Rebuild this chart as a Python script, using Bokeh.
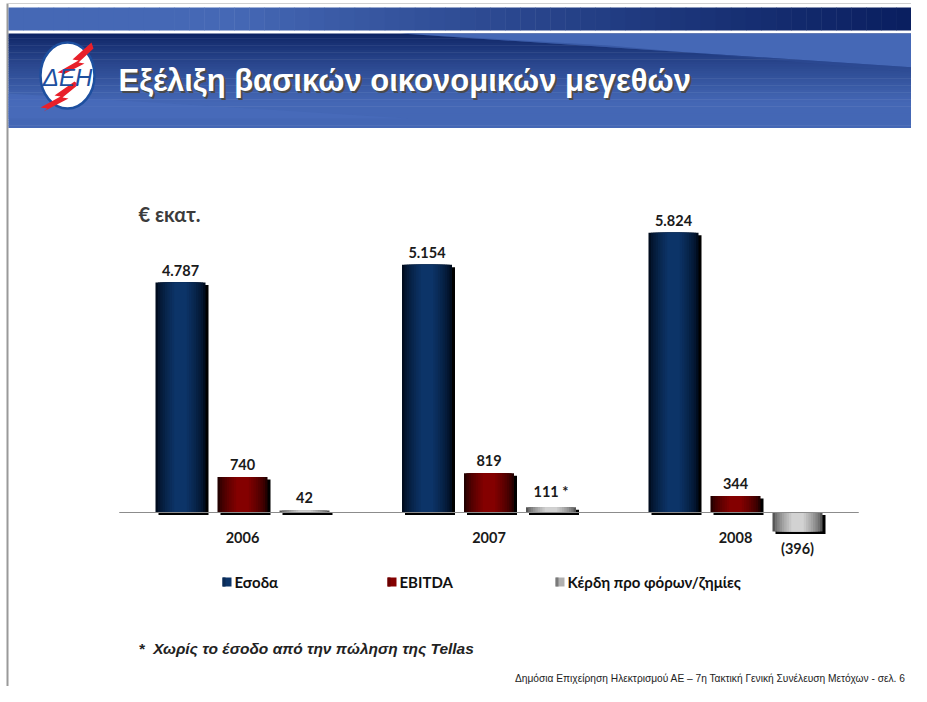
from bokeh.plotting import figure
from bokeh.models import Range1d
from bokeh.core.properties import value
from bokeh.embed import file_html
from bokeh.resources import INLINE

# ---------------- data ----------------
years = ["2006", "2007", "2008"]
series_names = ["Εσοδα", "EBITDA", "Κέρδη προ φόρων/ζημίες"]
esoda = [4787, 5154, 5824]
ebitda = [740, 819, 344]
kerdi = [42, 111, -396]
notes = ["", "", ""]
kerdi_notes = ["", " *", ""]
title = "Εξέλιξη βασικών οικονομικών μεγεθών"
unit_label = "€ εκατ."
footnote = "*\u00a0\u00a0Χωρίς το έσοδο από την πώληση της Tellas"
footer = "Δημόσια Επιχείρηση Ηλεκτρισμού ΑΕ – 7η Τακτική Γενική Συνέλευση Μετόχων  - σελ. 6"

W, H = 911, 686
XPX = 1 / 246.5       # data units of x per pixel
YPX = 4787 / 230.0    # data units of y per pixel
base_px_x, base_px_y = 242, 512

p = figure(width=W, height=H, output_backend="svg", toolbar_location=None,
           x_range=Range1d(-base_px_x * XPX, (W - base_px_x) * XPX),
           y_range=Range1d(-(H - base_px_y) * YPX, base_px_y * YPX),
           min_border=0, outline_line_color=None, background_fill_color="white",
           border_fill_color="white")
p.extra_x_ranges = {"px": Range1d(0, W)}
p.extra_y_ranges = {"px": Range1d(H, 0)}
p.xaxis.visible = False
p.yaxis.visible = False
p.grid.visible = False
p.renderers = []


def hexmix(c1, c2, t):
    a = [int(c1[i:i + 2], 16) for i in (1, 3, 5)]
    b = [int(c2[i:i + 2], 16) for i in (1, 3, 5)]
    return "#%02x%02x%02x" % tuple(int(round(a[k] + (b[k] - a[k]) * t)) for k in range(3))


PX = dict(x_range_name="px", y_range_name="px")

# ---------------- slide frame / header ----------------
p.line([7, 7], [3, H + 2], line_color="#9a9a9a", line_width=2, **PX)
p.line([7, W + 2], [3, 3], line_color="#d0d0d0", line_width=1, **PX)

# top band horizontal gradient
n = 60
for i in range(n):
    x0 = 8 + (W - 8) * i / n
    x1 = 8 + (W - 8) * (i + 1) / n + 0.5
    t = i / (n - 1)
    tt = max(0.0, (t - 0.25) / 0.75)
    c = hexmix("#4568b5", "#0a1f60", tt ** 0.9)
    p.quad(left=x0, right=x1, top=7, bottom=30, fill_color=c, line_color=None, **PX)

# second band vertical gradient
m = 40
for j in range(m):
    y0 = 33 + 94 * j / m
    y1 = 33 + 94 * (j + 1) / m + 0.5
    t = j / (m - 1)
    c = hexmix("#0e2464", "#4467b5", min(1.0, t * 1.35) ** 0.8)
    p.quad(left=8, right=W + 5, top=y0, bottom=y1, fill_color=c, line_color=None, **PX)
# light triangle at top-right
p.patch([400, W + 5, W + 5], [33, 33, 67], fill_color="#4568b6", line_color=None, **PX)
p.patch([400, W + 5, W + 5, 608], [33, 67, 72, 45], fill_color="#2e4c95",
        fill_alpha=0.5, line_color=None, **PX)
# subtle lighter lower-left diagonal
p.patch([8, 408, 8], [93, 118, 118], fill_color="#4a6dbc", fill_alpha=0.6,
        line_color=None, **PX)

# logo
p.ellipse(x=[67], y=[75], width=[54], height=[66], fill_color="white",
          line_color="#1d4f9f", line_width=2.5, **PX)
p.patch([91, 72, 78, 57, 64, 59, 84, 78, 93],
        [42, 59, 60, 72, 73, 76, 63, 62, 48],
        fill_color="#e8202a", line_color=None, **PX)
p.patch([74, 54, 60, 40, 47, 43, 68, 62, 78],
        [81, 95, 96, 107, 108, 111, 98, 97, 84],
        fill_color="#e8202a", line_color=None, **PX)
p.text(x=[67], y=[77], text=["ΔΕΗ"], text_font=value("Liberation Sans"),
       text_font_size="24px", text_font_style="italic", text_color="#1d4f9f",
       text_align="center", text_baseline="middle", **PX)

# title with shadow
p.text(x=[120], y=[82], text=[title], text_font=value("Liberation Sans"),
       text_font_size="31px", text_font_style="bold", text_color="#4a4a4a",
       text_align="left", text_baseline="middle", **PX)
p.text(x=[118], y=[80], text=[title], text_font=value("Liberation Sans"),
       text_font_size="31px", text_font_style="bold", text_color="white",
       text_align="left", text_baseline="middle", **PX)

# ---------------- chart ----------------
idx = list(range(len(years)))
bar_w = 50 * XPX
dodge = 62 * XPX
series = [esoda, ebitda, kerdi]
edge_cols = ["#000c1e", "#240000", "#555555"]
mid_cols = ["#0c3468", "#840000", "#d2d2d2"]
legend_edge = ["#0a2a55", "#6a0000", "#9a9a9a"]

for s, vals in enumerate(series):
    xs = [i + (s - 1) * dodge for i in idx]
    # shadow
    p.vbar(x=[x + 3 * XPX for x in xs], width=bar_w,
           top=[max(v, 0) - 2.5 * YPX for v in vals],
           bottom=[min(v, 0) - 2.5 * YPX for v in vals],
           fill_color="black", line_color=None)
    layers = 9
    for k in range(layers):
        f = 1.0 - k * (0.75 / (layers - 1))
        t = (k / (layers - 1)) ** 0.7
        p.vbar(x=xs, width=bar_w * f, top=[max(v, 0) for v in vals],
               bottom=[min(v, 0) for v in vals],
               fill_color=hexmix(edge_cols[s], mid_cols[s], t), line_color=None)

# baseline of the category axis
p.line([-0.5, 2.5], [0, 0], line_color="#8c8c8c", line_width=1.2)


def fmt(v):
    s = "{:,}".format(abs(v)).replace(",", ".")
    return "(" + s + ")" if v < 0 else s


label_font = value("Lato")
lab_size = "14.5px"
for s, vals in enumerate(series):
    xs = [i + (s - 1) * dodge for i in idx]
    extra = kerdi_notes if s == 2 else notes
    pos_x = [x for x, v in zip(xs, vals) if v >= 0]
    pos_y = [v + 7 * YPX for v in vals if v >= 0]
    pos_t = [fmt(v) + e for v, e in zip(vals, extra) if v >= 0]
    p.text(x=pos_x, y=pos_y, text=pos_t, text_font=label_font, text_font_size=lab_size,
           text_font_style="bold", text_color="#1a1a1a", text_align="center",
           text_baseline="bottom")
    neg_x = [x for x, v in zip(xs, vals) if v < 0]
    neg_y = [v - 8 * YPX for v in vals if v < 0]
    neg_t = [fmt(v) + e for v, e in zip(vals, extra) if v < 0]
    p.text(x=neg_x, y=neg_y, text=neg_t, text_font=label_font, text_font_size=lab_size,
           text_font_style="bold", text_color="#1a1a1a", text_align="center",
           text_baseline="top")

# category labels
p.text(x=idx, y=[-25 * YPX] * len(idx), text=years, text_font=label_font,
       text_font_size=lab_size, text_font_style="bold", text_color="#1a1a1a",
       text_align="center", text_baseline="middle")

# unit label
p.text(x=[138], y=[213], text=[unit_label], text_font=label_font, text_font_size="20px",
       text_font_style="bold", text_color="#3c3c3c", text_align="left",
       text_baseline="middle", **PX)

# legend
leg_x = [222, 387, 555]
for s, name in enumerate(series_names):
    p.quad(left=[leg_x[s]], right=[leg_x[s] + 9], top=[577], bottom=[586],
           fill_color=mid_cols[s] if s != 2 else "#b0b0b0", line_color=None, **PX)
    p.quad(left=[leg_x[s]], right=[leg_x[s] + 3], top=[577], bottom=[586],
           fill_color=legend_edge[s] if s != 2 else "#7a7a7a", line_color=None, **PX)
    p.text(x=[leg_x[s] + 12], y=[581], text=[name], text_font=label_font,
           text_font_size="15px", text_font_style="bold", text_color="#111111",
           text_align="left", text_baseline="middle", **PX)

# footnote
p.text(x=[138], y=[648], text=[footnote], text_font=value("Liberation Sans"),
       text_font_size="15.5px", text_font_style="bold italic", text_color="#222222",
       text_align="left", text_baseline="middle", **PX)

# footer
p.text(x=[908], y=[678], text=[footer], text_font=value("Liberation Sans"),
       text_font_size="10.2px", text_color="#222222", text_align="right",
       text_baseline="middle", **PX)

open("out.html", "w").write(file_html(p, INLINE))
